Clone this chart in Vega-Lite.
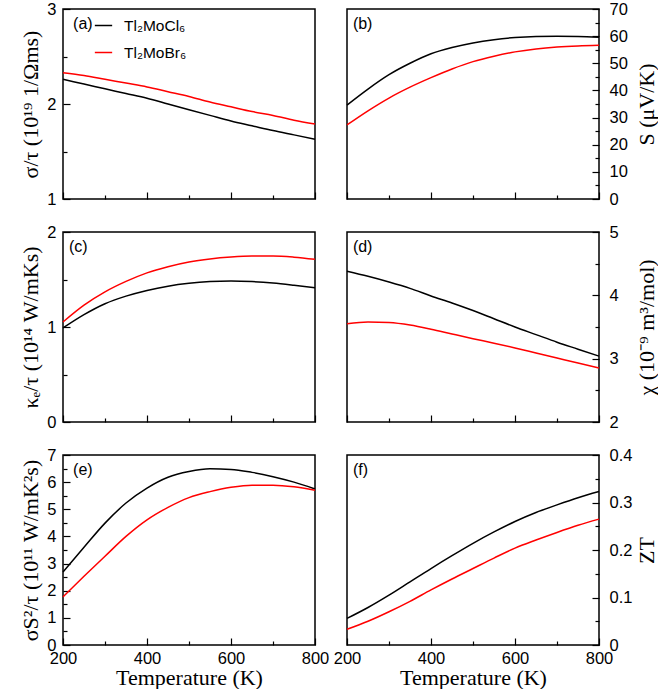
{
"$schema": "https://vega.github.io/schema/vega-lite/v6.json",
"padding": {"left": 18, "top": 0, "right": 0, "bottom": 0},
"datasets": {"d": [
{"T":200,"c":"Tl₂MoCl₆","sig":2.26,"S":34.6,"ke":0.99,"chi":4.38,"pf":2.69,"zt":0.056},
{"T":250,"c":"Tl₂MoCl₆","sig":2.21,"S":40.5,"ke":1.13,"chi":4.30,"pf":3.6,"zt":0.079},
{"T":300,"c":"Tl₂MoCl₆","sig":2.16,"S":45.8,"ke":1.245,"chi":4.21,"pf":4.49,"zt":0.105},
{"T":350,"c":"Tl₂MoCl₆","sig":2.11,"S":50.0,"ke":1.325,"chi":4.11,"pf":5.23,"zt":0.133},
{"T":400,"c":"Tl₂MoCl₆","sig":2.06,"S":53.5,"ke":1.385,"chi":3.99,"pf":5.78,"zt":0.161},
{"T":450,"c":"Tl₂MoCl₆","sig":2.00,"S":55.8,"ke":1.43,"chi":3.88,"pf":6.18,"zt":0.188},
{"T":500,"c":"Tl₂MoCl₆","sig":1.94,"S":57.5,"ke":1.46,"chi":3.76,"pf":6.39,"zt":0.214},
{"T":550,"c":"Tl₂MoCl₆","sig":1.88,"S":58.7,"ke":1.478,"chi":3.63,"pf":6.49,"zt":0.238},
{"T":600,"c":"Tl₂MoCl₆","sig":1.82,"S":59.5,"ke":1.484,"chi":3.50,"pf":6.47,"zt":0.26},
{"T":650,"c":"Tl₂MoCl₆","sig":1.77,"S":59.9,"ke":1.478,"chi":3.38,"pf":6.36,"zt":0.279},
{"T":700,"c":"Tl₂MoCl₆","sig":1.72,"S":60.0,"ke":1.463,"chi":3.26,"pf":6.2,"zt":0.295},
{"T":750,"c":"Tl₂MoCl₆","sig":1.675,"S":59.9,"ke":1.44,"chi":3.15,"pf":6.0,"zt":0.31},
{"T":800,"c":"Tl₂MoCl₆","sig":1.63,"S":59.6,"ke":1.414,"chi":3.04,"pf":5.75,"zt":0.323},
{"T":200,"c":"Tl₂MoBr₆","sig":2.33,"S":27.3,"ke":1.053,"chi":3.553,"pf":1.77,"zt":0.033},
{"T":250,"c":"Tl₂MoBr₆","sig":2.30,"S":32.5,"ke":1.23,"chi":3.58,"pf":2.53,"zt":0.05},
{"T":300,"c":"Tl₂MoBr₆","sig":2.26,"S":37.2,"ke":1.37,"chi":3.57,"pf":3.27,"zt":0.07},
{"T":350,"c":"Tl₂MoBr₆","sig":2.22,"S":41.2,"ke":1.48,"chi":3.53,"pf":4.0,"zt":0.092},
{"T":400,"c":"Tl₂MoBr₆","sig":2.18,"S":44.7,"ke":1.57,"chi":3.465,"pf":4.61,"zt":0.116},
{"T":450,"c":"Tl₂MoBr₆","sig":2.13,"S":47.9,"ke":1.635,"chi":3.39,"pf":5.07,"zt":0.139},
{"T":500,"c":"Tl₂MoBr₆","sig":2.08,"S":50.6,"ke":1.685,"chi":3.316,"pf":5.43,"zt":0.161},
{"T":550,"c":"Tl₂MoBr₆","sig":2.02,"S":52.6,"ke":1.717,"chi":3.245,"pf":5.65,"zt":0.183},
{"T":600,"c":"Tl₂MoBr₆","sig":1.97,"S":54.2,"ke":1.737,"chi":3.17,"pf":5.81,"zt":0.204},
{"T":650,"c":"Tl₂MoBr₆","sig":1.92,"S":55.3,"ke":1.747,"chi":3.09,"pf":5.89,"zt":0.221},
{"T":700,"c":"Tl₂MoBr₆","sig":1.88,"S":56.0,"ke":1.747,"chi":3.01,"pf":5.89,"zt":0.237},
{"T":750,"c":"Tl₂MoBr₆","sig":1.83,"S":56.4,"ke":1.735,"chi":2.93,"pf":5.83,"zt":0.252},
{"T":800,"c":"Tl₂MoBr₆","sig":1.79,"S":56.6,"ke":1.712,"chi":2.853,"pf":5.70,"zt":0.265}
]},
"columns": 2,
"bounds": "flush",
"spacing": {"row": 33, "column": 32},
"resolve": {"scale": {"color": "independent"}, "legend": {"color": "independent"}},
"concat": [
{"width": 252, "height": 190, "layer": [
 {"data": {"name": "d"}, "mark": {"type": "line", "strokeWidth": 1.5, "interpolate": "monotone"},
  "encoding": {
   "x": {"field": "T", "type": "quantitative", "scale": {"domain": [200, 800], "nice": false},
    "axis": {"title": null, "labels": false, "tickCount": 30, "values": [200,300,400,500,600,700,800], "tickSize": {"condition": {"test": "datum.value % 200 === 0", "value": -7}, "value": -4}}},
   "y": {"field": "sig", "type": "quantitative", "scale": {"domain": [1, 3], "nice": false, "zero": false},
    "axis": {"orient": "left", "title": "σ/τ (10¹⁹ 1/Ωms)", "tickCount": 30, "values": [1,1.5,2,2.5,3], "labelExpr": "datum.value % 1 === 0 ? format(datum.value, '~g') : ''", "tickSize": {"condition": {"test": "datum.value % 1 === 0", "value": -7}, "value": -4}, "labelPadding": 14, "titleX": -33, "titleY": 95, "titleAngle": -90, "titleBaseline": "middle", "titleAlign": "center"}},
   "color": {"field": "c", "type": "nominal", "scale": {"domain": ["Tl₂MoCl₆", "Tl₂MoBr₆"], "range": ["#000000", "#ff0000"]},
    "legend": {"orient": "none", "legendX": 31, "legendY": 7, "title": null, "symbolType": "stroke", "symbolSize": 300, "symbolStrokeWidth": 1.5, "labelFont": "Liberation Sans", "labelFontSize": 15.5, "labelColor": "#000", "labelOffset": 11, "rowPadding": 9, "padding": 0}}
  }},
 {"data": {"values": [{"T": 224, "sig": 2.842, "t": "(a)"}]}, "mark": {"type": "text", "align": "left", "baseline": "middle", "font": "Liberation Sans", "fontSize": 16, "color": "#000"},
  "encoding": {"x": {"field": "T", "type": "quantitative"}, "y": {"field": "sig", "type": "quantitative"}, "text": {"field": "t"}}}
]},
{"width": 252, "height": 190, "layer": [
 {"data": {"name": "d"}, "mark": {"type": "line", "strokeWidth": 1.5, "interpolate": "monotone"},
  "encoding": {
   "x": {"field": "T", "type": "quantitative", "scale": {"domain": [200, 800], "nice": false},
    "axis": {"title": null, "labels": false, "tickCount": 30, "values": [200,300,400,500,600,700,800], "tickSize": {"condition": {"test": "datum.value % 200 === 0", "value": -7}, "value": -4}}},
   "y": {"field": "S", "type": "quantitative", "scale": {"domain": [0, 70], "nice": false},
    "axis": {"orient": "right", "title": "S (μV/K)", "tickCount": 30, "values": [0,5,10,15,20,25,30,35,40,45,50,55,60,65,70], "labelExpr": "datum.value % 10 === 0 ? format(datum.value, '~g') : ''", "tickSize": {"condition": {"test": "datum.value % 10 === 0", "value": -7}, "value": -4}, "labelPadding": 17, "titleX": 47, "titleY": 95, "titleAngle": -90, "titleBaseline": "middle", "titleAlign": "center"}},
   "color": {"field": "c", "type": "nominal", "scale": {"domain": ["Tl₂MoCl₆", "Tl₂MoBr₆"], "range": ["#000000", "#ff0000"]}, "legend": null}
  }},
 {"data": {"values": [{"T": 214, "S": 64.5, "t": "(b)"}]}, "mark": {"type": "text", "align": "left", "baseline": "middle", "font": "Liberation Sans", "fontSize": 16, "color": "#000"},
  "encoding": {"x": {"field": "T", "type": "quantitative"}, "y": {"field": "S", "type": "quantitative"}, "text": {"field": "t"}}}
]},
{"width": 252, "height": 190, "layer": [
 {"data": {"name": "d"}, "mark": {"type": "line", "strokeWidth": 1.5, "interpolate": "monotone"},
  "encoding": {
   "x": {"field": "T", "type": "quantitative", "scale": {"domain": [200, 800], "nice": false},
    "axis": {"title": null, "labels": false, "tickCount": 30, "values": [200,300,400,500,600,700,800], "tickSize": {"condition": {"test": "datum.value % 200 === 0", "value": -7}, "value": -4}}},
   "y": {"field": "ke", "type": "quantitative", "scale": {"domain": [0, 2], "nice": false},
    "axis": {"orient": "left", "title": "κₑ/τ (10¹⁴ W/mKs)", "tickCount": 30, "values": [0,0.5,1,1.5,2], "labelExpr": "datum.value % 1 === 0 ? format(datum.value, '~g') : ''", "tickSize": {"condition": {"test": "datum.value % 1 === 0", "value": -7}, "value": -4}, "labelPadding": 14, "titleX": -33, "titleY": 95, "titleAngle": -90, "titleBaseline": "middle", "titleAlign": "center"}},
   "color": {"field": "c", "type": "nominal", "scale": {"domain": ["Tl₂MoCl₆", "Tl₂MoBr₆"], "range": ["#000000", "#ff0000"]}, "legend": null}
  }},
 {"data": {"values": [{"T": 214, "ke": 1.842, "t": "(c)"}]}, "mark": {"type": "text", "align": "left", "baseline": "middle", "font": "Liberation Sans", "fontSize": 16, "color": "#000"},
  "encoding": {"x": {"field": "T", "type": "quantitative"}, "y": {"field": "ke", "type": "quantitative"}, "text": {"field": "t"}}}
]},
{"width": 252, "height": 190, "layer": [
 {"data": {"name": "d"}, "mark": {"type": "line", "strokeWidth": 1.5, "interpolate": "monotone"},
  "encoding": {
   "x": {"field": "T", "type": "quantitative", "scale": {"domain": [200, 800], "nice": false},
    "axis": {"title": null, "labels": false, "tickCount": 30, "values": [200,300,400,500,600,700,800], "tickSize": {"condition": {"test": "datum.value % 200 === 0", "value": -7}, "value": -4}}},
   "y": {"field": "chi", "type": "quantitative", "scale": {"domain": [2, 5], "nice": false, "zero": false},
    "axis": {"orient": "right", "title": "χ (10⁻⁹ m³/mol)", "tickCount": 30, "values": [2,2.5,3,3.5,4,4.5,5], "labelExpr": "datum.value % 1 === 0 ? format(datum.value, '~g') : ''", "tickSize": {"condition": {"test": "datum.value % 1 === 0", "value": -7}, "value": -4}, "labelPadding": 17, "titleX": 47, "titleY": 95, "titleAngle": -90, "titleBaseline": "middle", "titleAlign": "center"}},
   "color": {"field": "c", "type": "nominal", "scale": {"domain": ["Tl₂MoCl₆", "Tl₂MoBr₆"], "range": ["#000000", "#ff0000"]}, "legend": null}
  }},
 {"data": {"values": [{"T": 214, "chi": 4.763, "t": "(d)"}]}, "mark": {"type": "text", "align": "left", "baseline": "middle", "font": "Liberation Sans", "fontSize": 16, "color": "#000"},
  "encoding": {"x": {"field": "T", "type": "quantitative"}, "y": {"field": "chi", "type": "quantitative"}, "text": {"field": "t"}}}
]},
{"width": 252, "height": 190, "layer": [
 {"data": {"name": "d"}, "mark": {"type": "line", "strokeWidth": 1.5, "interpolate": "monotone"},
  "encoding": {
   "x": {"field": "T", "type": "quantitative", "scale": {"domain": [200, 800], "nice": false},
    "axis": {"title": "Temperature (K)", "tickCount": 30, "values": [200,300,400,500,600,700,800], "labelExpr": "datum.value % 200 === 0 ? format(datum.value, 'd') : ''", "labelFlush": false, "labelPadding": 12, "tickSize": {"condition": {"test": "datum.value % 200 === 0", "value": -7}, "value": -4}, "titleX": 126, "titleY": 32, "titleBaseline": "middle", "titleAlign": "center"}},
   "y": {"field": "pf", "type": "quantitative", "scale": {"domain": [0, 7], "nice": false},
    "axis": {"orient": "left", "title": "σS²/τ (10¹¹ W/mK²s)", "tickCount": 30, "values": [0,0.5,1,1.5,2,2.5,3,3.5,4,4.5,5,5.5,6,6.5,7], "labelExpr": "datum.value % 1 === 0 ? format(datum.value, '~g') : ''", "tickSize": {"condition": {"test": "datum.value % 1 === 0", "value": -7}, "value": -4}, "labelPadding": 14, "titleX": -33, "titleY": 95, "titleAngle": -90, "titleBaseline": "middle", "titleAlign": "center"}},
   "color": {"field": "c", "type": "nominal", "scale": {"domain": ["Tl₂MoCl₆", "Tl₂MoBr₆"], "range": ["#000000", "#ff0000"]}, "legend": null}
  }},
 {"data": {"values": [{"T": 224, "pf": 6.45, "t": "(e)"}]}, "mark": {"type": "text", "align": "left", "baseline": "middle", "font": "Liberation Sans", "fontSize": 16, "color": "#000"},
  "encoding": {"x": {"field": "T", "type": "quantitative"}, "y": {"field": "pf", "type": "quantitative"}, "text": {"field": "t"}}}
]},
{"width": 252, "height": 190, "layer": [
 {"data": {"name": "d"}, "mark": {"type": "line", "strokeWidth": 1.5, "interpolate": "monotone"},
  "encoding": {
   "x": {"field": "T", "type": "quantitative", "scale": {"domain": [200, 800], "nice": false},
    "axis": {"title": "Temperature (K)", "tickCount": 30, "values": [200,300,400,500,600,700,800], "labelExpr": "datum.value % 200 === 0 ? format(datum.value, 'd') : ''", "labelFlush": false, "labelPadding": 12, "tickSize": {"condition": {"test": "datum.value % 200 === 0", "value": -7}, "value": -4}, "titleX": 126, "titleY": 32, "titleBaseline": "middle", "titleAlign": "center"}},
   "y": {"field": "zt", "type": "quantitative", "scale": {"domain": [0, 0.4], "nice": false},
    "axis": {"orient": "right", "title": "ZT", "tickCount": 30, "values": [0,0.05,0.1,0.15,0.2,0.25,0.3,0.35,0.4], "labelExpr": "round(datum.value * 100) % 10 === 0 ? format(datum.value, '~g') : ''", "tickSize": {"condition": {"test": "round(datum.value * 100) % 10 === 0", "value": -7}, "value": -4}, "labelPadding": 17, "titleX": 47, "titleY": 95, "titleAngle": -90, "titleBaseline": "middle", "titleAlign": "center"}},
   "color": {"field": "c", "type": "nominal", "scale": {"domain": ["Tl₂MoCl₆", "Tl₂MoBr₆"], "range": ["#000000", "#ff0000"]}, "legend": null}
  }},
 {"data": {"values": [{"T": 214, "zt": 0.368, "t": "(f)"}]}, "mark": {"type": "text", "align": "left", "baseline": "middle", "font": "Liberation Sans", "fontSize": 16, "color": "#000"},
  "encoding": {"x": {"field": "T", "type": "quantitative"}, "y": {"field": "zt", "type": "quantitative"}, "text": {"field": "t"}}}
]}
],
"config": {
 "view": {"stroke": "#000000", "strokeWidth": 1.5},
 "axis": {"domain": false, "grid": false, "labelOverlap": false, "tickColor": "#000000", "tickWidth": 1.2, "labelColor": "#000000", "labelFont": "Liberation Sans", "labelFontSize": 16.5, "titleFont": "Liberation Serif", "titleFontSize": 22, "titleFontWeight": "normal", "titleColor": "#000000"}
}
}
